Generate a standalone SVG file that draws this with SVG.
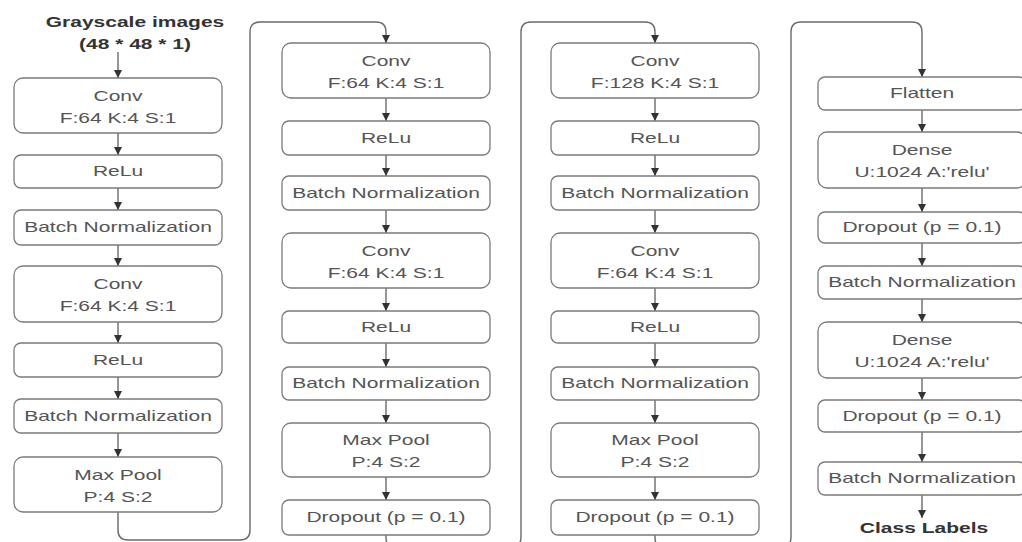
<svg xmlns="http://www.w3.org/2000/svg" width="1022" height="542" viewBox="0 0 1022 542">
<defs>
<marker id="ah" markerUnits="userSpaceOnUse" markerWidth="9" markerHeight="8" viewBox="0 0 10 10" refX="10" refY="5" orient="auto">
<path d="M0,0 L10,5 L0,10 z" fill="#333"/>
</marker>
<style>
.box{fill:#fff;stroke:#7a7a7a;stroke-width:1.3}
.t{font-family:"Liberation Sans",Arial,sans-serif;font-size:14px;fill:#555;text-anchor:middle}
.b{font-family:"Liberation Sans",Arial,sans-serif;font-size:14px;font-weight:bold;fill:#333;text-anchor:middle}
.c{fill:none;stroke:#6a6a6a;stroke-width:1.4}
.a{fill:none;stroke:#6a6a6a;stroke-width:1.4;marker-end:url(#ah)}
</style>
</defs>
<rect width="1022" height="542" fill="#fff"/>

<g id="connectors">
<line class="a" x1="118" y1="52" x2="118" y2="78"/>
<line class="a" x1="118" y1="133" x2="118" y2="155"/>
<line class="a" x1="118" y1="188" x2="118" y2="210"/>
<line class="a" x1="118" y1="245" x2="118" y2="266"/>
<line class="a" x1="118" y1="322" x2="118" y2="343"/>
<line class="a" x1="118" y1="377" x2="118" y2="399"/>
<line class="a" x1="118" y1="433" x2="118" y2="457"/>
<path class="a" d="M118,512 V530 Q118,540 128,540 H240 Q250,540 250,530 V32 Q250,22 260,22 H376 Q386,22 386,32 V43"/>
<line class="a" x1="386" y1="98" x2="386" y2="121"/>
<line class="a" x1="386" y1="155" x2="386" y2="176"/>
<line class="a" x1="386" y1="210" x2="386" y2="233"/>
<line class="a" x1="386" y1="288" x2="386" y2="311"/>
<line class="a" x1="386" y1="343" x2="386" y2="367"/>
<line class="a" x1="386" y1="400" x2="386" y2="423"/>
<line class="a" x1="386" y1="477" x2="386" y2="500"/>
<path class="a" d="M386,535 V538 Q386,547 396,547 H511 Q521,547 521,537 V32 Q521,22 531,22 H645 Q655,22 655,32 V43"/>
<line class="a" x1="655" y1="98" x2="655" y2="121"/>
<line class="a" x1="655" y1="155" x2="655" y2="176"/>
<line class="a" x1="655" y1="210" x2="655" y2="233"/>
<line class="a" x1="655" y1="288" x2="655" y2="311"/>
<line class="a" x1="655" y1="343" x2="655" y2="367"/>
<line class="a" x1="655" y1="400" x2="655" y2="423"/>
<line class="a" x1="655" y1="477" x2="655" y2="500"/>
<path class="a" d="M655,535 V538 Q655,547 665,547 H781 Q791,547 791,537 V32 Q791,22 801,22 H912 Q922,22 922,32 V77"/>
<line class="a" x1="922" y1="110" x2="922" y2="132"/>
<line class="a" x1="922" y1="188" x2="922" y2="212"/>
<line class="a" x1="922" y1="243" x2="922" y2="266"/>
<line class="a" x1="922" y1="299" x2="922" y2="322"/>
<line class="a" x1="922" y1="378" x2="922" y2="400"/>
<line class="a" x1="922" y1="432" x2="922" y2="462"/>
<line class="a" x1="922" y1="495" x2="922" y2="518"/>
</g>

<g id="input">
<text class="b" x="0" y="27" transform="matrix(1.5 0 0 1 135 0)">Grayscale images</text>
<text class="b" x="0" y="49" transform="matrix(1.5 0 0 1 135 0)">(48 * 48 * 1)</text>
</g>

<!-- Column 1 -->
<g id="c1-conv1"><rect class="box" x="14" y="78" width="208" height="55" rx="9"/>
<text class="t" x="0" y="101" transform="matrix(1.5 0 0 1 118 0)">Conv</text>
<text class="t" x="0" y="123" transform="matrix(1.5 0 0 1 118 0)">F:64 K:4 S:1</text></g>
<g id="c1-relu1"><rect class="box" x="14" y="155" width="208" height="33" rx="7"/>
<text class="t" x="0" y="176" transform="matrix(1.5 0 0 1 118 0)">ReLu</text></g>
<g id="c1-bn1"><rect class="box" x="14" y="210" width="208" height="35" rx="7"/>
<text class="t" x="0" y="232" transform="matrix(1.5 0 0 1 118 0)">Batch Normalization</text></g>
<g id="c1-conv2"><rect class="box" x="14" y="266" width="208" height="56" rx="9"/>
<text class="t" x="0" y="289" transform="matrix(1.5 0 0 1 118 0)">Conv</text>
<text class="t" x="0" y="311" transform="matrix(1.5 0 0 1 118 0)">F:64 K:4 S:1</text></g>
<g id="c1-relu2"><rect class="box" x="14" y="343" width="208" height="34" rx="7"/>
<text class="t" x="0" y="365" transform="matrix(1.5 0 0 1 118 0)">ReLu</text></g>
<g id="c1-bn2"><rect class="box" x="14" y="399" width="208" height="34" rx="7"/>
<text class="t" x="0" y="421" transform="matrix(1.5 0 0 1 118 0)">Batch Normalization</text></g>
<g id="c1-pool"><rect class="box" x="14" y="457" width="208" height="55" rx="9"/>
<text class="t" x="0" y="480" transform="matrix(1.5 0 0 1 118 0)">Max Pool</text>
<text class="t" x="0" y="502" transform="matrix(1.5 0 0 1 118 0)">P:4 S:2</text></g>

<!-- Column 2 -->
<g id="c2-conv1"><rect class="box" x="282" y="43" width="208" height="55" rx="9"/>
<text class="t" x="0" y="66" transform="matrix(1.5 0 0 1 386 0)">Conv</text>
<text class="t" x="0" y="88" transform="matrix(1.5 0 0 1 386 0)">F:64 K:4 S:1</text></g>
<g id="c2-relu1"><rect class="box" x="282" y="121" width="208" height="34" rx="7"/>
<text class="t" x="0" y="143" transform="matrix(1.5 0 0 1 386 0)">ReLu</text></g>
<g id="c2-bn1"><rect class="box" x="282" y="176" width="208" height="34" rx="7"/>
<text class="t" x="0" y="198" transform="matrix(1.5 0 0 1 386 0)">Batch Normalization</text></g>
<g id="c2-conv2"><rect class="box" x="282" y="233" width="208" height="55" rx="9"/>
<text class="t" x="0" y="256" transform="matrix(1.5 0 0 1 386 0)">Conv</text>
<text class="t" x="0" y="278" transform="matrix(1.5 0 0 1 386 0)">F:64 K:4 S:1</text></g>
<g id="c2-relu2"><rect class="box" x="282" y="311" width="208" height="32" rx="7"/>
<text class="t" x="0" y="332" transform="matrix(1.5 0 0 1 386 0)">ReLu</text></g>
<g id="c2-bn2"><rect class="box" x="282" y="367" width="208" height="33" rx="7"/>
<text class="t" x="0" y="388" transform="matrix(1.5 0 0 1 386 0)">Batch Normalization</text></g>
<g id="c2-pool"><rect class="box" x="282" y="423" width="208" height="54" rx="9"/>
<text class="t" x="0" y="445" transform="matrix(1.5 0 0 1 386 0)">Max Pool</text>
<text class="t" x="0" y="467" transform="matrix(1.5 0 0 1 386 0)">P:4 S:2</text></g>
<g id="c2-drop"><rect class="box" x="282" y="500" width="208" height="35" rx="7"/>
<text class="t" x="0" y="522" transform="matrix(1.5 0 0 1 386 0)">Dropout (p = 0.1)</text></g>

<!-- Column 3 -->
<g id="c3-conv1"><rect class="box" x="551" y="43" width="208" height="55" rx="9"/>
<text class="t" x="0" y="66" transform="matrix(1.5 0 0 1 655 0)">Conv</text>
<text class="t" x="0" y="88" transform="matrix(1.5 0 0 1 655 0)">F:128 K:4 S:1</text></g>
<g id="c3-relu1"><rect class="box" x="551" y="121" width="208" height="34" rx="7"/>
<text class="t" x="0" y="143" transform="matrix(1.5 0 0 1 655 0)">ReLu</text></g>
<g id="c3-bn1"><rect class="box" x="551" y="176" width="208" height="34" rx="7"/>
<text class="t" x="0" y="198" transform="matrix(1.5 0 0 1 655 0)">Batch Normalization</text></g>
<g id="c3-conv2"><rect class="box" x="551" y="233" width="208" height="55" rx="9"/>
<text class="t" x="0" y="256" transform="matrix(1.5 0 0 1 655 0)">Conv</text>
<text class="t" x="0" y="278" transform="matrix(1.5 0 0 1 655 0)">F:64 K:4 S:1</text></g>
<g id="c3-relu2"><rect class="box" x="551" y="311" width="208" height="32" rx="7"/>
<text class="t" x="0" y="332" transform="matrix(1.5 0 0 1 655 0)">ReLu</text></g>
<g id="c3-bn2"><rect class="box" x="551" y="367" width="208" height="33" rx="7"/>
<text class="t" x="0" y="388" transform="matrix(1.5 0 0 1 655 0)">Batch Normalization</text></g>
<g id="c3-pool"><rect class="box" x="551" y="423" width="208" height="54" rx="9"/>
<text class="t" x="0" y="445" transform="matrix(1.5 0 0 1 655 0)">Max Pool</text>
<text class="t" x="0" y="467" transform="matrix(1.5 0 0 1 655 0)">P:4 S:2</text></g>
<g id="c3-drop"><rect class="box" x="551" y="500" width="208" height="35" rx="7"/>
<text class="t" x="0" y="522" transform="matrix(1.5 0 0 1 655 0)">Dropout (p = 0.1)</text></g>

<!-- Column 4 -->
<g id="c4-flatten"><rect class="box" x="818" y="77" width="208" height="33" rx="7"/>
<text class="t" x="0" y="98" transform="matrix(1.5 0 0 1 922 0)">Flatten</text></g>
<g id="c4-dense1"><rect class="box" x="818" y="132" width="208" height="56" rx="9"/>
<text class="t" x="0" y="155" transform="matrix(1.5 0 0 1 922 0)">Dense</text>
<text class="t" x="0" y="177" transform="matrix(1.5 0 0 1 922 0)">U:1024 A:'relu'</text></g>
<g id="c4-drop1"><rect class="box" x="818" y="212" width="208" height="31" rx="7"/>
<text class="t" x="0" y="232" transform="matrix(1.5 0 0 1 922 0)">Dropout (p = 0.1)</text></g>
<g id="c4-bn1"><rect class="box" x="818" y="266" width="208" height="33" rx="7"/>
<text class="t" x="0" y="287" transform="matrix(1.5 0 0 1 922 0)">Batch Normalization</text></g>
<g id="c4-dense2"><rect class="box" x="818" y="322" width="208" height="56" rx="9"/>
<text class="t" x="0" y="345" transform="matrix(1.5 0 0 1 922 0)">Dense</text>
<text class="t" x="0" y="367" transform="matrix(1.5 0 0 1 922 0)">U:1024 A:'relu'</text></g>
<g id="c4-drop2"><rect class="box" x="818" y="400" width="208" height="32" rx="7"/>
<text class="t" x="0" y="421" transform="matrix(1.5 0 0 1 922 0)">Dropout (p = 0.1)</text></g>
<g id="c4-bn2"><rect class="box" x="818" y="462" width="208" height="33" rx="7"/>
<text class="t" x="0" y="483" transform="matrix(1.5 0 0 1 922 0)">Batch Normalization</text></g>
<g id="output">
<text class="b" x="0" y="533" transform="matrix(1.5 0 0 1 924 0)">Class Labels</text>
</g>
</svg>
